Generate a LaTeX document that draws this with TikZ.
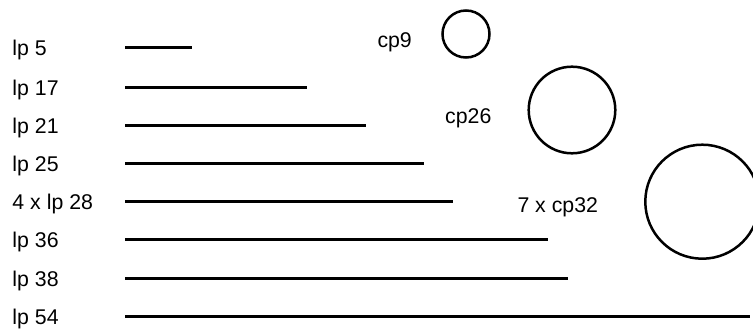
\documentclass[tikz,border=0pt]{standalone}
\usepackage{fontspec}
\setmainfont{Liberation Sans}
\begin{document}
\begin{tikzpicture}[x=1pt,y=-1pt,
  lbl/.style={anchor=base west,inner sep=0pt,font=\fontsize{21.3}{25}\selectfont},
  bar/.style={line width=3pt},
  ring/.style={draw,circle,line width=2.5pt,inner sep=0pt}]
\useasboundingbox (0,0) rectangle (753,329);
% labels and bars
\foreach \name/\txt/\y/\xe in {a/lp 5/48/192, b/lp 17/87.3/307, c/lp 21/125/366, d/lp 25/163.3/423.5, e/4 x lp 28/201.5/452.5, f/lp 36/239.5/548, g/lp 38/278.3/568, h/lp 54/316.8/750}{
  \node[lbl] (t\name) at (12.3,\y+8) {\txt};
  \coordinate (s\name) at (125,\y);
  \coordinate (e\name) at (\xe,\y);
  \draw[bar] (s\name) -- (e\name);
}
% circles
\node[ring,minimum size=47pt] (c9) at (466,34) {};
\node[ring,minimum size=86.6pt] (c26) at (572,110) {};
\node[ring,minimum size=114pt] (c32) at (702.3,201.7) {};
\node[lbl] (l9) at (377.3,47.3) {cp9};
\node[lbl] (l26) at (445,123.3) {cp26};
\node[lbl] (l32) at (517.3,212.3) {7 x cp32};
\end{tikzpicture}
\end{document}
